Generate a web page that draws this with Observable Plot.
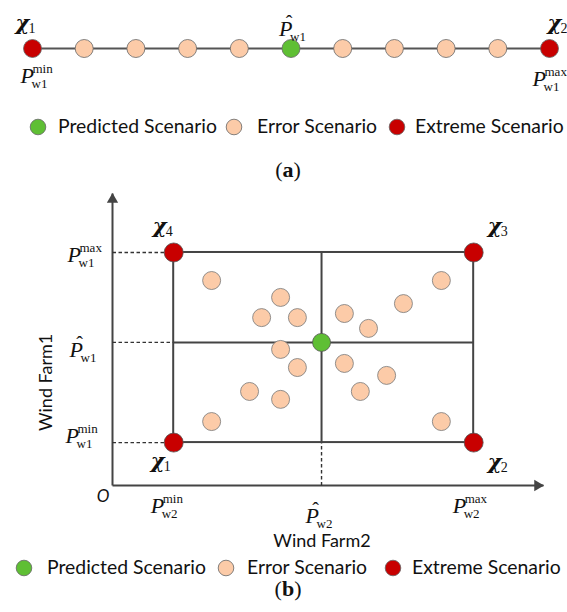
<!DOCTYPE html>
<html><head><meta charset="utf-8">
<script src="https://cdn.jsdelivr.net/npm/d3@7"></script>
<script src="https://cdn.jsdelivr.net/npm/@observablehq/plot@0.6"></script>
<style>
html,body{margin:0;padding:0;background:#fff}
body{width:567px;height:612px;position:relative;overflow:hidden}
.abs{position:absolute;left:0}
svg{overflow:visible}
</style></head><body>
<div id="panelA" class="abs" style="top:0"></div>
<div id="legendA" class="abs" style="top:100px"></div>
<div id="panelB" class="abs" style="top:185px"></div>
<div id="legendB" class="abs" style="top:550px"></div>
<script>
// ---------- data ----------
const scenarioTypes = ["Predicted Scenario", "Error Scenario", "Extreme Scenario"];
const scenarioColors = ["#5fbf34", "#fccba8", "#c80000"];

// (a) one wind farm: eleven scenarios along Wind Farm1 output
const stepA = [0, 1, 2, 3, 4, 5, 6, 7, 8, 9, 10];
const typeA = ["Extreme Scenario", "Error Scenario", "Error Scenario", "Error Scenario", "Error Scenario",
  "Predicted Scenario", "Error Scenario", "Error Scenario", "Error Scenario", "Error Scenario", "Extreme Scenario"];

// (b) two wind farms (Wind Farm2 on x, Wind Farm1 on y), axis units 0..100
const wf2Levels = [14.2, 48.5, 83.8];   // P_w2^min, P̂_w2, P_w2^max
const wf1Levels = [14.7, 49.0, 79.8];   // P_w1^min, P̂_w1, P_w1^max
const errorWF2 = [23.0, 39.0, 34.6, 42.9, 53.8, 59.4, 67.5, 76.3, 39.0, 42.9, 31.8, 39.0, 53.8, 63.6, 57.5, 23.0, 76.3];
const errorWF1 = [70.2, 64.4, 57.5, 57.5, 58.9, 53.8, 62.3, 70.2, 46.6, 40.4, 32.2, 29.5, 41.8, 37.7, 32.2, 21.9, 21.9];
const extremeIds = ["1", "2", "3", "4"];
const extremeWF2 = [14.2, 83.8, 83.8, 14.2];
const extremeWF1 = [14.7, 14.7, 79.8, 79.8];
const axisLabels = ["Wind Farm2", "Wind Farm1"];

// ---------- helpers ----------
const SERIF = "'Liberation Serif','Times New Roman',serif";
const CHI = "'DejaVu Serif','Liberation Serif',serif";
const SANS = "Lato,'Open Sans',sans-serif";
const INK = "#111";
const LINE = "#444";
const color = {domain: scenarioTypes, range: scenarioColors};

function pLabel(data, x, y, o) {
  const base = {x, y, fontFamily: SERIF, fill: INK, textAnchor: "start", lineAnchor: "bottom"};
  const marks = [Plot.text(data, {...base, text: () => "P", dx: o.dx, dy: o.dy, fontSize: 22, fontStyle: "italic"})];
  if (o.hat) marks.push(Plot.text(data, {...base, text: () => "\u02C6", textAnchor: "middle", dx: o.dx + 10, dy: o.dy - 6, fontSize: 20}));
  if (o.sup) marks.push(Plot.text(data, {...base, text: () => o.sup, dx: o.dx + 12, dy: o.dy - 10, fontSize: 13}));
  marks.push(Plot.text(data, {...base, text: () => o.sub, dx: o.dx + 11, dy: o.dy + 5, fontSize: 13}));
  return marks;
}
function chiLabel(data, x, y, id, dx, dy) {
  const base = {x, y, fill: INK, textAnchor: "start", lineAnchor: "bottom"};
  return [
    Plot.text(data, {...base, text: () => "\u03C7", dx, dy, fontSize: 21, fontWeight: "bold", fontStyle: "italic", fontFamily: CHI}),
    Plot.text(data, {...base, text: () => id, dx: dx + 13, dy: dy + 3, fontSize: 14, fontFamily: SERIF})
  ];
}

// ---------- panel (a) ----------
const dataA = stepA.map((s, i) => ({s, type: typeA[i], y: 0}));
const first = [dataA[0]], mid = [dataA[5]], last = [dataA[10]];
const plotA = Plot.plot({
  width: 567, height: 100,
  marginLeft: 32, marginRight: 18, marginTop: 0, marginBottom: 4,
  x: {domain: [0, 10], axis: null},
  y: {domain: [-1, 1], axis: null},
  color,
  style: {background: "transparent", overflow: "visible"},
  marks: [
    Plot.line(dataA, {x: "s", y: "y", stroke: "#555", strokeWidth: 2}),
    Plot.dot(dataA, {x: "s", y: "y", r: 9, fill: "type", stroke: "#666", strokeWidth: 0.8}),
    ...chiLabel(first, "s", "y", "1", -17, -19),
    ...chiLabel(last, "s", "y", "2", -2, -19),
    ...pLabel(first, "s", "y", {dx: -12, dy: 34, sup: "min", sub: "w1"}),
    ...pLabel(last, "s", "y", {dx: -17, dy: 37, sup: "max", sub: "w1"}),
    ...pLabel(mid, "s", "y", {dx: -12, dy: -13, hat: true, sub: "w1"})
  ]
});
document.getElementById("panelA").appendChild(plotA);

// ---------- panel (b) ----------
const errors = errorWF2.map((x, i) => ({x, y: errorWF1[i], type: "Error Scenario"}));
const extremes = extremeWF2.map((x, i) => ({x, y: extremeWF1[i], id: extremeIds[i], type: "Extreme Scenario"}));
const predicted = [{x: wf2Levels[1], y: wf1Levels[1], type: "Predicted Scenario"}];
const box = [{x1: wf2Levels[0], x2: wf2Levels[2], y1: wf1Levels[0], y2: wf1Levels[2]}];
const crossLines = [
  {x1: wf2Levels[1], x2: wf2Levels[1], y1: wf1Levels[0], y2: wf1Levels[2]},
  {x1: wf2Levels[0], x2: wf2Levels[2], y1: wf1Levels[1], y2: wf1Levels[1]}
];
const dashLines = [
  ...wf1Levels.map(v => ({x1: 0, x2: wf2Levels[0], y1: v, y2: v})),
  {x1: wf2Levels[1], x2: wf2Levels[1], y1: 0, y2: wf1Levels[0]}
];
const yTicks = wf1Levels.map(v => ({x: 0, y: v}));
const xTicks = wf2Levels.map(v => ({x: v, y: 0}));
const originPt = [{x: 0, y: 0}];
const axes = [{x1: 0, y1: 0, x2: 100, y2: 0}, {x1: 0, y1: 0, x2: 0, y2: 100}];

const plotB = Plot.plot({
  width: 567, height: 365,
  marginLeft: 112, marginRight: 24, marginTop: 8, marginBottom: 65,
  x: {domain: [0, 100], axis: null},
  y: {domain: [0, 100], axis: null},
  color,
  style: {background: "transparent", overflow: "visible"},
  marks: [
    Plot.link(axes, {x1: "x1", y1: "y1", x2: "x2", y2: "y2", stroke: LINE, strokeWidth: 2}),
    Plot.dot([{x: 100, y: 0}], {x: "x", y: "y", symbol: "triangle", rotate: 90, r: 4.2, dx: -6, fill: LINE, stroke: "none"}),
    Plot.dot([{x: 0, y: 100}], {x: "x", y: "y", symbol: "triangle", rotate: 0, r: 4.2, dy: 6, fill: LINE, stroke: "none"}),
    Plot.link(dashLines, {x1: "x1", y1: "y1", x2: "x2", y2: "y2", stroke: "#333", strokeWidth: 1.4, strokeDasharray: "3.5,2.5"}),
    Plot.rect(box, {x1: "x1", x2: "x2", y1: "y1", y2: "y2", fill: "none", stroke: LINE, strokeWidth: 2}),
    Plot.link(crossLines, {x1: "x1", y1: "y1", x2: "x2", y2: "y2", stroke: LINE, strokeWidth: 2}),
    Plot.dot(errors, {x: "x", y: "y", r: 9, fill: "type", stroke: "#777", strokeWidth: 0.8}),
    Plot.dot(predicted, {x: "x", y: "y", r: 9, fill: "type", stroke: "#555", strokeWidth: 0.8}),
    Plot.dot(extremes, {x: "x", y: "y", r: 9.5, fill: "type", stroke: "#555", strokeWidth: 0.8}),
    ...chiLabel([extremes[0]], "x", "y", "1", -23, 25),
    ...chiLabel([extremes[1]], "x", "y", "2", 14, 26),
    ...chiLabel([extremes[2]], "x", "y", "3", 14, -19),
    ...chiLabel([extremes[3]], "x", "y", "4", -21, -19),
    ...pLabel([yTicks[0]], "x", "y", {dx: -47, dy: 0, sup: "min", sub: "w1"}),
    ...pLabel([yTicks[1]], "x", "y", {dx: -43, dy: 15, hat: true, sub: "w1"}),
    ...pLabel([yTicks[2]], "x", "y", {dx: -45, dy: 10, sup: "max", sub: "w1"}),
    ...pLabel([xTicks[0]], "x", "y", {dx: -23, dy: 27, sup: "min", sub: "w2"}),
    ...pLabel([xTicks[1]], "x", "y", {dx: -16, dy: 37, hat: true, sub: "w2"}),
    ...pLabel([xTicks[2]], "x", "y", {dx: -21, dy: 27, sup: "max", sub: "w2"}),
    Plot.text(originPt, {x: "x", y: "y", text: () => "O", dx: -3, dy: 16, textAnchor: "end", lineAnchor: "bottom", fontSize: 17, fontStyle: "italic", fontFamily: SANS, fill: INK}),
    Plot.text([axisLabels[0]], {text: d => d, frameAnchor: "bottom", dx: -6, dy: 61, lineAnchor: "bottom", fontSize: 18, fontFamily: SANS, fill: INK}),
    Plot.text([axisLabels[1]], {text: d => d, y: () => 35.3, frameAnchor: "left", textAnchor: "middle", lineAnchor: "middle", rotate: -90, dx: -66, fontSize: 18, fontFamily: SANS, fill: INK})
  ]
});
document.getElementById("panelB").appendChild(plotB);

// ---------- legends & captions ----------
function legend(id, h, cy, base, cxs, txs, capBase, capLetter) {
  const svg = d3.select("#" + id).append("svg").attr("width", 567).attr("height", h);
  const probe = svg.append("text").attr("font-family", SANS).attr("font-size", 20).text(scenarioTypes[0]);
  const L = probe.node().getComputedTextLength();
  probe.remove();
  const fs = 20 * 159 / L;
  scenarioTypes.forEach((t, i) => {
    svg.append("circle").attr("cx", cxs[i]).attr("cy", cy).attr("r", 7.8)
      .attr("fill", scenarioColors[i]).attr("stroke", "#666").attr("stroke-width", 0.8);
    svg.append("text").attr("x", txs[i]).attr("y", base).attr("font-family", SANS)
      .attr("font-size", fs).attr("fill", INK).text(t);
  });
  const cap = svg.append("text").attr("x", 288).attr("y", capBase).attr("text-anchor", "middle")
    .attr("font-family", SERIF).attr("font-size", 22).attr("fill", INK);
  cap.append("tspan").text("(");
  cap.append("tspan").attr("font-weight", "bold").text(capLetter);
  cap.append("tspan").text(")");
}
legend("legendA", 85, 27, 33, [38, 234, 397], [58, 257, 415], 77, "a");
legend("legendB", 62, 18, 24, [24, 226, 393], [47, 247, 412], 46, "b");
</script>
</body></html>
